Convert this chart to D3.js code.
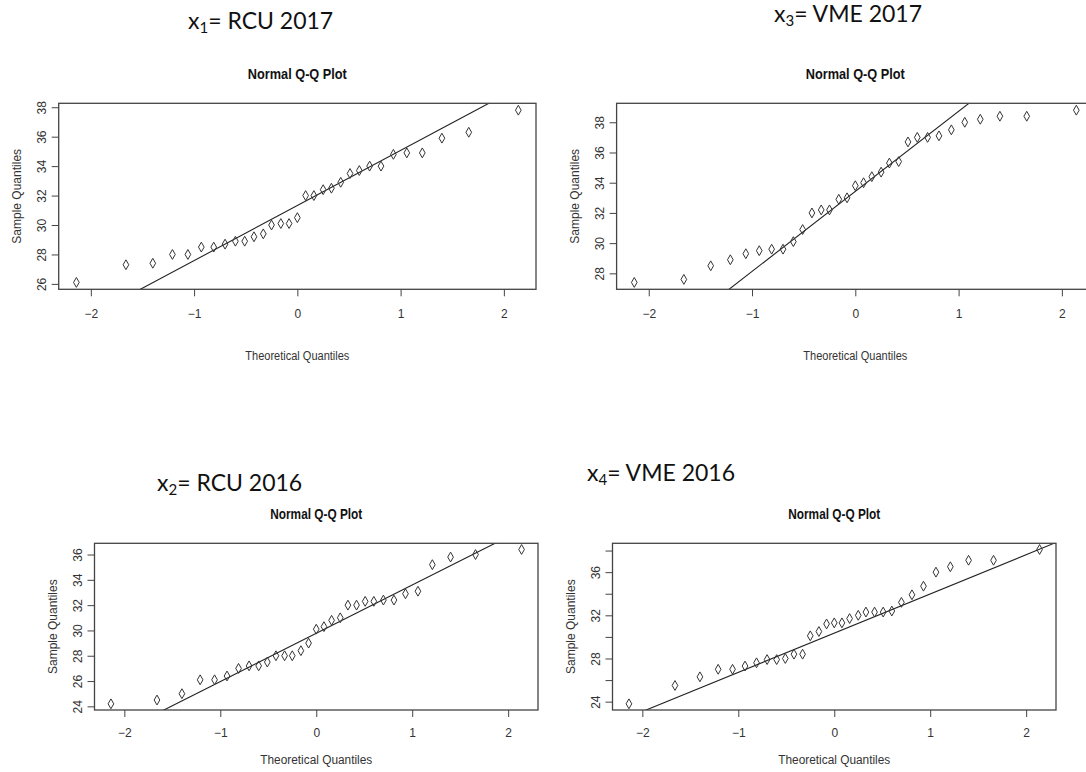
<!DOCTYPE html>
<html>
<head>
<meta charset="utf-8">
<script src="https://cdn.jsdelivr.net/npm/d3@7"></script>
<style>
    body { margin: 0; background: #fff; }
    svg { display: block; }
    .tick text { font-family: "Liberation Sans", Arial, sans-serif; font-size: 12px; fill: #333; }
    .tick line { stroke: #444; }
    .header { font-family: Lato, "Open Sans", sans-serif; font-size: 23px; fill: #111; }
    .plotTitle { font-family: "Liberation Sans", Arial, sans-serif; font-weight: bold; font-size: 14px; fill: #111; }
    .axisTitle { font-family: "Liberation Sans", Arial, sans-serif; font-size: 12px; fill: #333; }
</style>
</head>
<body>
<script>
//theoretical quantiles, the same 31 positions in every panel
var theoretical = [-2.14, -1.66, -1.40, -1.21, -1.06, -0.93, -0.81, -0.70, -0.60, -0.51, -0.42,
    -0.33, -0.25, -0.16, -0.08, 0, 0.08, 0.16, 0.25, 0.33, 0.42, 0.51, 0.60, 0.70, 0.81, 0.93,
    1.06, 1.21, 1.40, 1.66, 2.14];

//sample quantiles
var rcu2017 = [26.1, 27.3, 27.4, 28.0, 28.0, 28.5, 28.5, 28.7, 28.9, 28.9, 29.2, 29.4, 30.0, 30.1,
    30.1, 30.5, 32.0, 32.0, 32.4, 32.5, 32.9, 33.5, 33.7, 34.0, 34.0, 34.8, 34.9, 34.9, 35.9, 36.3, 37.8];
var vme2017 = [27.4, 27.6, 28.5, 28.9, 29.3, 29.5, 29.6, 29.6, 30.1, 30.9, 32.0, 32.2, 32.2, 32.9,
    33.0, 33.8, 34.0, 34.4, 34.7, 35.3, 35.4, 36.7, 37.0, 37.0, 37.1, 37.5, 38.0, 38.2, 38.4, 38.4, 38.8];
var rcu2016 = [24.2, 24.5, 25.0, 26.1, 26.1, 26.4, 27.0, 27.2, 27.2, 27.5, 28.0, 28.0, 28.0, 28.4,
    29.0, 30.1, 30.3, 30.8, 31.0, 32.0, 32.0, 32.3, 32.3, 32.4, 32.4, 32.9, 33.1, 35.2, 35.8, 36.0, 36.4];
var vme2016 = [23.8, 25.5, 26.3, 27.0, 27.0, 27.3, 27.6, 27.9, 27.9, 28.0, 28.4, 28.4, 30.1, 30.5,
    31.2, 31.3, 31.3, 31.7, 32.0, 32.3, 32.3, 32.3, 32.4, 33.2, 33.9, 34.7, 36.0, 36.5, 37.1, 37.1, 38.1];

//tick values and labels
var xTicks = [-2, -1, 0, 1, 2];
var yTicksRcu2017 = [26, 28, 30, 32, 34, 36, 38];
var yTicksVme2017 = [28, 30, 32, 34, 36, 38];
var yTicksRcu2016 = [24, 26, 28, 30, 32, 34, 36];
var yTicksVme2016 = [24, 26, 28, 30, 32, 34, 36, 38];
var yLabelsVme2016 = [24, 28, 32, 36];

//panel headers
var headerIndex = ["1", "3", "2", "4"];
var headerNames = ["RCU 2017", "VME 2017", "RCU 2016", "VME 2016"];

(function () {
    var width = 1086, height = 772;

    var svg = d3.select("body").append("svg")
        .attr("width", width)
        .attr("height", height);

    //panel boxes in pixels, plus where the texts sit
    var panels = [
        { values: rcu2017, yTicks: yTicksRcu2017, yLabels: yTicksRcu2017,
          left: 58.7, right: 536, top: 103.3, bottom: 289.3,
          head: [188, 29], titleY: 74, titleW: 99, xLabOff: 25, xTitleOff: 66, xTitleW: 104 },
        { values: vme2017, yTicks: yTicksVme2017, yLabels: yTicksVme2017,
          left: 616.6, right: 1094, top: 103.3, bottom: 289.3,
          head: [774, 22], titleY: 74, titleW: 99, xLabOff: 25, xTitleOff: 66, xTitleW: 104 },
        { values: rcu2016, yTicks: yTicksRcu2016, yLabels: yTicksRcu2016,
          left: 94.5, right: 538, top: 543.3, bottom: 710,
          head: [157, 491], titleY: 514, titleW: 92, xLabOff: 23, xTitleOff: 50, xTitleW: 112 },
        { values: vme2016, yTicks: yTicksVme2016, yLabels: yLabelsVme2016,
          left: 612.5, right: 1056, top: 543.3, bottom: 710,
          head: [587, 481], titleY: 514, titleW: 92, xLabOff: 23, xTitleOff: 50, xTitleW: 112 }
    ];

    panels.forEach(function (p, i) {
        drawPanel(p, i);
    });

    //R pads the data range by 4% on both sides
    function rPad(ext) {
        var d = (ext[1] - ext[0]) * 0.04;
        return [ext[0] - d, ext[1] + d];
    }

    function drawPanel(p, i) {
        var g = svg.append("g");
        var cx = (p.left + p.right) / 2,
            cy = (p.top + p.bottom) / 2;

        var x = d3.scaleLinear()
            .domain(rPad(d3.extent(theoretical)))
            .range([p.left, p.right]);
        var y = d3.scaleLinear()
            .domain(rPad(d3.extent(p.values)))
            .range([p.bottom, p.top]);

        //header like "x1= RCU 2017"
        var head = g.append("text")
            .attr("class", "header")
            .attr("x", p.head[0])
            .attr("y", p.head[1]);
        head.append("tspan").text("x");
        head.append("tspan").attr("dy", 4).attr("font-size", "15px").text(headerIndex[i]);
        head.append("tspan").attr("dy", -4).text("= " + headerNames[i]);

        //plot title
        g.append("text")
            .attr("class", "plotTitle")
            .attr("x", cx)
            .attr("y", p.titleY)
            .attr("dy", "0.35em")
            .attr("text-anchor", "middle")
            .attr("textLength", p.titleW)
            .attr("lengthAdjust", "spacingAndGlyphs")
            .text("Normal Q-Q Plot");

        //x axis
        var xAxis = g.append("g")
            .attr("transform", "translate(0," + p.bottom + ")")
            .call(d3.axisBottom(x).tickValues(xTicks).tickSize(7).tickFormat(d3.format("d")));
        xAxis.select(".domain").remove();
        xAxis.selectAll("text")
            .attr("y", p.xLabOff)
            .attr("dy", "0.35em");

        //y axis, labels turned like R does
        var yAxis = g.append("g")
            .attr("transform", "translate(" + p.left + ",0)")
            .call(d3.axisLeft(y).tickValues(p.yTicks).tickSize(7)
                .tickFormat(function (d) { return p.yLabels.indexOf(d) >= 0 ? d : ""; }));
        yAxis.select(".domain").remove();
        yAxis.selectAll("text")
            .attr("x", 0)
            .attr("dy", "0.35em")
            .attr("text-anchor", "middle")
            .attr("transform", "translate(-17,0) rotate(-90)");

        //axis titles
        g.append("text")
            .attr("class", "axisTitle")
            .attr("x", cx)
            .attr("y", p.bottom + p.xTitleOff)
            .attr("dy", "0.35em")
            .attr("text-anchor", "middle")
            .attr("textLength", p.xTitleW)
            .attr("lengthAdjust", "spacingAndGlyphs")
            .text("Theoretical Quantiles");

        g.append("text")
            .attr("class", "axisTitle")
            .attr("transform", "translate(" + (p.left - 42) + "," + cy + ") rotate(-90)")
            .attr("dy", "0.35em")
            .attr("text-anchor", "middle")
            .text("Sample Quantiles");

        //clip for the reference line
        var clipId = "clip" + i;
        g.append("clipPath")
            .attr("id", clipId)
            .append("rect")
            .attr("x", p.left)
            .attr("y", p.top)
            .attr("width", p.right - p.left)
            .attr("height", p.bottom - p.top);

        //qqline through the first and third quartiles
        var sorted = p.values.slice().sort(d3.ascending);
        var q1 = d3.quantile(sorted, 0.25),
            q3 = d3.quantile(sorted, 0.75),
            z = 0.6745;
        var slope = (q3 - q1) / (2 * z),
            intercept = q1 + z * slope;
        var xd = x.domain();
        g.append("line")
            .attr("clip-path", "url(#" + clipId + ")")
            .attr("x1", x(xd[0]))
            .attr("y1", y(intercept + slope * xd[0]))
            .attr("x2", x(xd[1]))
            .attr("y2", y(intercept + slope * xd[1]))
            .style("stroke", "#222")
            .style("stroke-width", 1.1);

        //points
        g.selectAll(".pt")
            .data(p.values)
            .enter()
            .append("path")
            .attr("class", "pt")
            .attr("d", d3.symbol().type(d3.symbolDiamond).size(28))
            .attr("transform", function (d, j) {
                return "translate(" + x(theoretical[j]) + "," + y(d) + ")";
            })
            .style("fill", "none")
            .style("stroke", "#333")
            .style("stroke-width", 1);

        //frame
        g.append("rect")
            .attr("x", p.left)
            .attr("y", p.top)
            .attr("width", p.right - p.left)
            .attr("height", p.bottom - p.top)
            .style("fill", "none")
            .style("stroke", "#444")
            .style("stroke-width", 1.3);
    }
})();
</script>
</body>
</html>
